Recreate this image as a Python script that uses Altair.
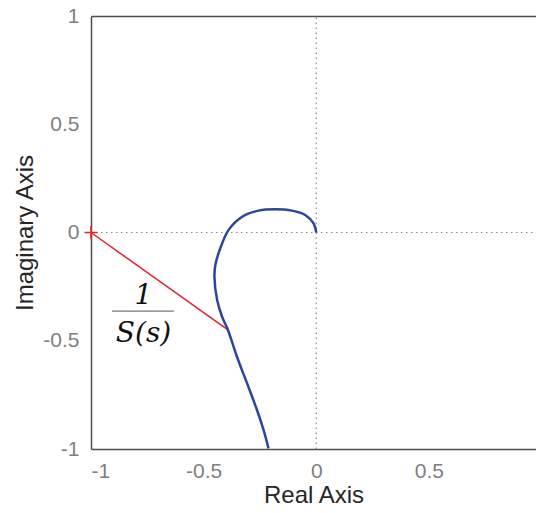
import altair as alt
import pandas as pd

# Nyquist-style curve
curve_re = [0.0, -0.012, -0.049, -0.108, -0.182, -0.256, -0.329, -0.389, -0.426,
            -0.448, -0.452, -0.440, -0.418, -0.392, -0.352, -0.307, -0.263, -0.234, -0.212]
curve_im = [0.0, 0.042, 0.081, 0.101, 0.107, 0.101, 0.073, 0.012, -0.073,
            -0.150, -0.204, -0.312, -0.389, -0.450, -0.574, -0.697, -0.820, -0.912, -0.997]

# red segment from the critical point to the curve
seg_re = [-1.0, -0.392]
seg_im = [0.0, -0.450]

# critical point marker
crit_re = [-1.0]
crit_im = [0.0]

# annotation 1/S(s)
ann_num = ["1"]
ann_den = ["S(s)"]
ann_x = [-0.767]
ann_num_y = [-0.293]
ann_den_y = [-0.468]
bar_x = [-0.907]
bar_x2 = [-0.632]
bar_y = [-0.363]

x_ticks = [-1, -0.5, 0, 0.5]
y_ticks = [-1, -0.5, 0, 0.5, 1]
x_domain = [-1, 0.9756]
y_domain = [-1, 1]

xs = alt.Scale(domain=x_domain, nice=False, zero=False)
ys = alt.Scale(domain=y_domain, nice=False, zero=False)

LABEL_FONT = "Liberation Sans"
LABEL_COLOR = "#7f7f7f"
DOMAIN_COLOR = "#4d4d4d"

x_axis = alt.Axis(values=x_ticks, labelExpr="datum.value + ''", ticks=False, tickSize=0,
                  grid=False, domainColor=DOMAIN_COLOR, domainWidth=1.5,
                  labelFont=LABEL_FONT, labelFontSize=21, labelColor=LABEL_COLOR,
                  labelPadding=11, title="Real Axis", titleFont=LABEL_FONT,
                  titleFontSize=24, titleFontWeight="normal", titleColor="#262626",
                  titlePadding=2)
y_axis = alt.Axis(values=y_ticks, labelExpr="datum.value + ''", ticks=False, tickSize=0,
                  grid=False, domainColor=DOMAIN_COLOR, domainWidth=1.5,
                  labelFont=LABEL_FONT, labelFontSize=21, labelColor=LABEL_COLOR,
                  labelPadding=12, title="Imaginary Axis", titleFont=LABEL_FONT,
                  titleFontSize=24, titleFontWeight="normal", titleColor="#262626",
                  titlePadding=5)
top_axis = alt.Axis(orient="top", values=x_ticks, labels=False, ticks=False, tickSize=0,
                    grid=False, domainColor=DOMAIN_COLOR, domainWidth=1.5, title=None)

curve_df = pd.DataFrame({"re": curve_re, "im": curve_im, "i": range(len(curve_re))})
seg_df = pd.DataFrame({"re": seg_re, "im": seg_im})
crit_df = pd.DataFrame({"re": crit_re, "im": crit_im})
hline_df = pd.DataFrame({"re": x_domain, "im": [0, 0]})
vline_df = pd.DataFrame({"re": [0, 0], "im": y_domain})
num_df = pd.DataFrame({"x": ann_x, "y": ann_num_y, "t": ann_num})
den_df = pd.DataFrame({"x": ann_x, "y": ann_den_y, "t": ann_den})
bar_df = pd.DataFrame({"x": bar_x, "x2": bar_x2, "y": bar_y})

dot = dict(color="#8a8a8a", strokeWidth=1.2, strokeDash=[1.5, 3.5])

hline = alt.Chart(hline_df).mark_line(**dot).encode(
    x=alt.X("re:Q", scale=xs, axis=top_axis),
    y=alt.Y("im:Q", scale=ys, axis=y_axis),
)
vline = alt.Chart(vline_df).mark_line(**dot).encode(
    x=alt.X("re:Q", scale=xs, axis=x_axis),
    y=alt.Y("im:Q", scale=ys, axis=None),
)
curve = alt.Chart(curve_df).mark_line(color="#2a45a0", strokeWidth=2.5, clip=True,
                                      interpolate="catmull-rom").encode(
    x=alt.X("re:Q", scale=xs, axis=None),
    y=alt.Y("im:Q", scale=ys, axis=None),
    order="i:Q",
)
seg = alt.Chart(seg_df).mark_line(color="#e8202a", strokeWidth=1.5).encode(
    x=alt.X("re:Q", scale=xs, axis=None),
    y=alt.Y("im:Q", scale=ys, axis=None),
)
crit = alt.Chart(crit_df).mark_point(shape="M-1,0L1,0M0,-1L0,1", size=170, filled=False,
                                     color="#e8202a", strokeWidth=1.5, opacity=1).encode(
    x=alt.X("re:Q", scale=xs, axis=None),
    y=alt.Y("im:Q", scale=ys, axis=None),
)
text_style = dict(font="DejaVu Serif", fontStyle="italic", fontSize=28,
                  color="#111111", baseline="middle")
num = alt.Chart(num_df).mark_text(**text_style).encode(
    x=alt.X("x:Q", scale=xs, axis=None), y=alt.Y("y:Q", scale=ys, axis=None), text="t:N")
den = alt.Chart(den_df).mark_text(**text_style).encode(
    x=alt.X("x:Q", scale=xs, axis=None), y=alt.Y("y:Q", scale=ys, axis=None), text="t:N")
bar = alt.Chart(bar_df).mark_rule(color="#555555", strokeWidth=1).encode(
    x=alt.X("x:Q", scale=xs, axis=None), x2="x2:Q", y=alt.Y("y:Q", scale=ys, axis=None))

chart = alt.layer(hline, vline, seg, curve, crit, bar, num, den).resolve_axis(
    x="independent", y="independent"
).properties(
    width=445, height=433, autosize="none",
    padding={"left": 91, "top": 16, "right": 0, "bottom": 64},
).configure_view(stroke=None).configure(background="white")

chart.save("out.html", embed_options={"renderer": "svg", "actions": False})
